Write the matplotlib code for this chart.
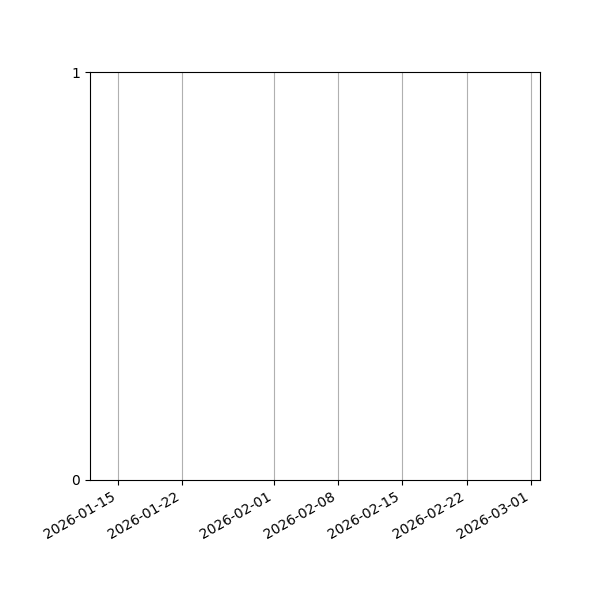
import datetime as dt
import matplotlib
matplotlib.use("Agg")
import matplotlib.pyplot as plt

# x range of the (empty) time axis
start_date = dt.date(2026, 1, 12)
end_date = dt.date(2026, 3, 2)

# no series in the chart
dates = []
values = []

y_ticks = [0, 1]

fig, ax = plt.subplots(figsize=(6, 6), dpi=100)
ax.plot(dates, values)
ax.xaxis_date()
ax.set_xlim(start_date, end_date)
ax.set_ylim(0, 1)
ax.set_yticks(y_ticks)
ax.grid(True, axis="x")
fig.autofmt_xdate()
fig.subplots_adjust(left=0.15, right=0.9, top=0.88, bottom=0.2)
fig.savefig("out.png")
